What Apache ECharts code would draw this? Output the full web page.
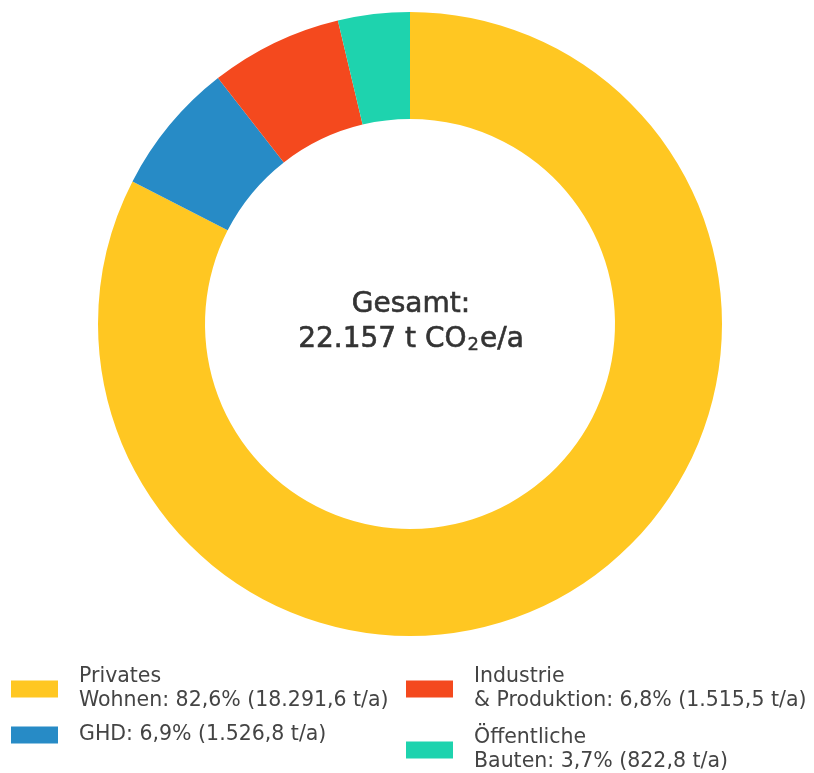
<!DOCTYPE html>
<html>
<head>
<meta charset="utf-8">
<script src="https://cdn.jsdelivr.net/npm/echarts@6/dist/echarts.min.js"></script>
<style>
  html, body { margin: 0; padding: 0; background: #fff; }
  #chart { width: 814px; height: 773px; }
</style>
</head>
<body>
<div id="chart"></div>
<script>
// Sektoren (im Uhrzeigersinn ab 12 Uhr)
const categories = ['Privates Wohnen', 'GHD', 'Industrie & Produktion', 'Öffentliche Bauten']
const values = [18291.6, 1526.8, 1515.5, 822.8]   // t CO2e/a
const colors = ['#FFC722', '#278BC6', '#F4491E', '#1ED3AE']

const FONT = '"DejaVu Sans", sans-serif'
const total = values.reduce((a, b) => a + b, 0)

// deutsche Zahlenformatierung: 18.291,6
function fmt(n, digits) {
  const parts = n.toFixed(digits).split('.')
  parts[0] = parts[0].replace(/\B(?=(\d{3})+(?!\d))/g, '.')
  return parts.join(',')
}

function legendText(name) {
  const i = categories.indexOf(name)
  const pct = fmt(values[i] / total * 100, 1)
  // nach dem ersten Wort umbrechen wie im Original
  const label = name.indexOf(' ') > 0 ? name.replace(' ', '\n') : name
  return `${label}: ${pct}% (${fmt(values[i], 1)} t/a)`
}

const legendBase = {
  orient: 'vertical',
  top: 665,
  height: 130,
  padding: 0,
  itemWidth: 47,
  itemHeight: 17,
  icon: 'rect',
  selectedMode: false,
  formatter: legendText,
  textStyle: {
    fontFamily: FONT,
    fontSize: 20.5,
    lineHeight: 24,
    color: '#444',
    padding: [0, 0, 0, 16]
  }
}

// Textstil Mitte (leicht kräftiger über Kontur)
const mid = { fontSize: 28, fill: '#333', stroke: '#333', lineWidth: 0.6, lineHeight: 35, fontFamily: FONT }

const chart = echarts.init(document.getElementById('chart'))

chart.setOption({
  animation: false,
  color: colors,
  legend: [
    { ...legendBase, left: 11, itemGap: 10, data: [categories[0], categories[1]] },
    { ...legendBase, left: 406, itemGap: 13, data: [categories[2], categories[3]] }
  ],
  graphic: [
    {
      type: 'text',
      x: 411,
      y: 322,
      style: {
        text: `{a|Gesamt:}\n{a|${fmt(Math.round(total), 0)} t CO}{s|2}{a|e/a}`,
        align: 'center',
        verticalAlign: 'middle',
        fontFamily: FONT,
        fill: '#333',
        rich: {
          a: mid,
          s: { ...mid, fontSize: 18, lineWidth: 0.4, padding: [12, 1, 0, 1] }
        }
      }
    }
  ],
  series: [
    {
      type: 'pie',
      center: [410, 324],
      radius: [205, 312],
      startAngle: 90,
      clockwise: true,
      label: { show: false },
      labelLine: { show: false },
      emphasis: { disabled: true },
      data: categories.map((c, i) => ({ name: c, value: values[i] }))
    }
  ]
})
</script>
</body>
</html>
